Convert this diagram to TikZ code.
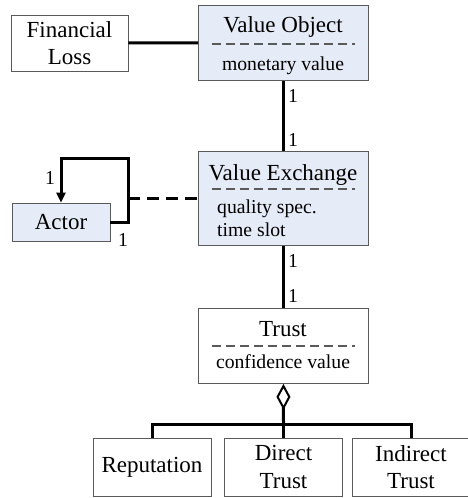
\documentclass[tikz,border=0pt]{standalone}
\usepackage{fontspec}
\setmainfont{Liberation Serif}
\usepackage{xcolor}
\usepackage{tikz}
\usetikzlibrary{positioning, arrows.meta}
\definecolor{classfill}{RGB}{230,236,247}
\definecolor{boxline}{RGB}{90,90,90}
\newcommand{\namefont}{\fontsize{23}{27.5}\selectfont}
\newcommand{\attrfont}{\fontsize{19.7}{23}\selectfont}
\tikzstyle{plainbox} = [rectangle, draw=boxline, line width=0.9pt, inner sep=0pt, align=center, font=\namefont]
\tikzstyle{classbox} = [plainbox, fill=classfill, anchor=north west, minimum width=170pt]
\tikzstyle{classname} = [anchor=base, inner sep=0pt, font=\namefont]
\tikzstyle{attr} = [inner sep=0pt, font=\attrfont]
\tikzstyle{attrline} = [draw=boxline, line width=1.3pt, dash pattern=on 9pt off 5pt]
\tikzstyle{link} = [line width=3pt]
\tikzstyle{mult} = [anchor=base west, inner sep=0pt, font=\attrfont]

\begin{document}
\begin{tikzpicture}[x=1pt, y=-1pt]
		\useasboundingbox (0,0) rectangle (467,498);
		% classes
		\node (Value Object)[classbox, minimum height=75pt] at (198,5) {};
		\node (VO name)[classname] at (283,32) {Value Object};
		\draw [attrline] (212,44) -- (355,44);
		\node (VO attr)[attr, anchor=base] at (283,70) {monetary value};

		\node (Value Exchange)[classbox, minimum height=94pt] at (198,151) {};
		\node (VE name)[classname] at (283,180) {Value Exchange};
		\draw [attrline] (212,189) -- (355,189);
		\node (VE attr1)[attr, anchor=base west] at (217,213) {quality spec.};
		\node (VE attr2)[attr, anchor=base west] at (217,236) {time slot};

		\node (Trust)[plainbox, anchor=north west, minimum width=170pt, minimum height=75pt] at (198,308) {};
		\node (Trust name)[classname] at (283,336) {Trust};
		\draw [attrline] (212,346) -- (355,346);
		\node (Trust attr)[attr, anchor=base] at (283,368) {confidence value};

		\node (Financial Loss)[plainbox, minimum width=117pt, minimum height=56pt] at (69.5,43) {Financial\\Loss};
		\node (Actor)[plainbox, fill=classfill, minimum width=98pt, minimum height=38pt] at (61,222) {Actor};

		\node (Reputation)[plainbox, minimum width=118pt, minimum height=58pt] at (152,467) {Reputation};
		\node (Direct)[plainbox, minimum width=118pt, minimum height=58pt] at (283.5,467) {Direct\\Trust};
		\node (Indirect)[plainbox, minimum width=118pt, minimum height=58pt] at (411,467) {Indirect\\Trust};

		% links
		\draw [link] (Financial Loss) -- (Value Object);
		\draw [link] (Value Object) -- (Value Exchange);
		\draw [link] (Value Exchange) -- (Trust);
		\node (m1)[mult] at (288,102) {1};
		\node (m2)[mult] at (288,146) {1};
		\node (m3)[mult] at (288,267) {1};
		\node (m4)[mult] at (288,302) {1};

		\coordinate (loop) at (128,158);
		\draw [link, -{Triangle[length=10pt, width=9pt]}] (Actor.east) -| (loop) -| (Actor.north);
		\draw [link, dash pattern=on 12pt off 7pt] (Value Exchange.west -| loop) -- (Value Exchange.west);
		\node (m5)[mult] at (45,184) {1};
		\node (m6)[mult] at (118,246) {1};

		\coordinate (bus) at (283.5,424);
		\draw [link, {Diamond[open, length=26pt, width=14pt, line width=2pt]}-] (Trust.south) -- (bus);
		\draw [link] (Reputation.north) |- (bus) -| (Indirect.north);
		\draw [link] (Direct.north) -- (bus);
	\end{tikzpicture}
\end{document}
